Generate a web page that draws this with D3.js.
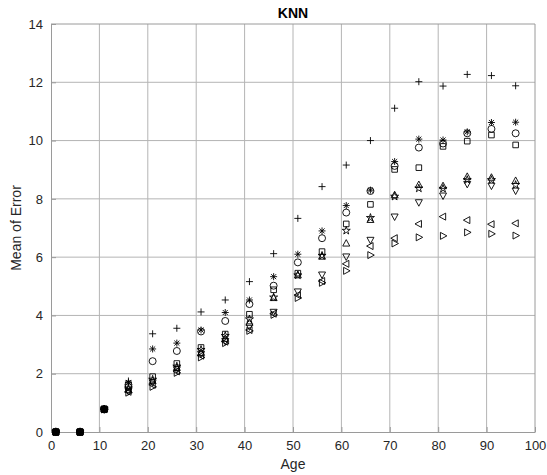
<!DOCTYPE html>
<html>
<head>
<meta charset="utf-8">
<script src="https://cdn.jsdelivr.net/npm/d3@7"></script>
<style>
  html, body { margin: 0; padding: 0; background: #fff; }
  svg { display: block; font-family: "Liberation Sans", Arial, Helvetica, sans-serif; }
</style>
</head>
<body>
<svg id="chart" width="547" height="475"></svg>
<script>
// Age groups (x) and the mean error of each KNN variant
const ages = [1, 6, 11, 16, 21, 26, 31, 36, 41, 46, 51, 56, 61, 66, 71, 76, 81, 86, 91, 96];

const plusSeries     = [0, 0, 0.78, 1.75, 3.37, 3.56, 4.12, 4.53, 5.16, 6.12, 7.33, 8.42, 9.16, 10.0, 11.11, 12.02, 11.87, 12.27, 12.23, 11.88];
const asteriskSeries = [0, 0, 0.78, 1.70, 2.85, 3.05, 3.50, 4.10, 4.53, 5.33, 6.10, 6.90, 7.77, 8.30, 9.28, 10.05, 10.02, 10.30, 10.62, 10.63];
const circleSeries   = [0, 0, 0.78, 1.62, 2.43, 2.78, 3.45, 3.81, 4.39, 5.02, 5.82, 6.65, 7.53, 8.27, 9.13, 9.76, 9.90, 10.25, 10.40, 10.25];
const squareSeries   = [0, 0, 0.78, 1.55, 1.90, 2.35, 2.90, 3.36, 4.04, 4.88, 5.45, 6.19, 7.14, 7.81, 9.01, 9.07, 9.80, 9.98, 10.19, 9.85];
const starSeries     = [0, 0, 0.78, 1.50, 1.80, 2.25, 2.82, 3.30, 3.87, 4.62, 5.38, 6.05, 6.91, 7.35, 8.08, 8.36, 8.35, 8.65, 8.65, 8.48];
const upSeries       = [0, 0, 0.78, 1.45, 1.75, 2.20, 2.72, 3.20, 3.75, 4.60, 5.38, 6.02, 6.47, 7.28, 8.13, 8.48, 8.44, 8.76, 8.73, 8.62];
const downSeries     = [0, 0, 0.78, 1.40, 1.70, 2.15, 2.68, 3.12, 3.62, 4.12, 4.82, 5.40, 6.02, 6.59, 7.39, 7.88, 8.11, 8.51, 8.45, 8.28];
const leftSeries     = [0, 0, 0.78, 1.38, 1.62, 2.08, 2.62, 3.10, 3.50, 4.06, 4.70, 5.18, 5.77, 6.38, 6.65, 7.14, 7.39, 7.27, 7.13, 7.16];
const rightSeries    = [0, 0, 0.78, 1.35, 1.55, 2.03, 2.56, 3.05, 3.47, 4.02, 4.60, 5.12, 5.53, 6.07, 6.47, 6.68, 6.73, 6.85, 6.80, 6.74];

const xTicks = [0, 10, 20, 30, 40, 50, 60, 70, 80, 90, 100];
const yTicks = [0, 2, 4, 6, 8, 10, 12, 14];

const series = [
  { marker: "plus",     values: plusSeries },
  { marker: "asterisk", values: asteriskSeries },
  { marker: "circle",   values: circleSeries },
  { marker: "square",   values: squareSeries },
  { marker: "star",     values: starSeries },
  { marker: "up",       values: upSeries },
  { marker: "down",     values: downSeries },
  { marker: "left",     values: leftSeries },
  { marker: "right",    values: rightSeries }
];

const svg = d3.select("#chart");
const margin = { left: 51, right: 12, top: 24, bottom: 43 };
const W = 547, H = 475;
const x = d3.scaleLinear().domain([0, 100]).range([margin.left, W - margin.right]);
const y = d3.scaleLinear().domain([0, 14]).range([H - margin.bottom, margin.top]);

const gridColor = "#b4b4b4";
const axisColor = "#9a9a9a";
const textColor = "#262626";

// Grid
svg.append("g").selectAll("line.vx").data(xTicks.slice(1, -1)).join("line")
  .attr("x1", d => x(d)).attr("x2", d => x(d))
  .attr("y1", y(0)).attr("y2", y(14))
  .attr("stroke", gridColor).attr("stroke-width", 1);
svg.append("g").selectAll("line.hy").data(yTicks.slice(1, -1)).join("line")
  .attr("x1", x(0)).attr("x2", x(100))
  .attr("y1", d => y(d)).attr("y2", d => y(d))
  .attr("stroke", gridColor).attr("stroke-width", 1);

// Axes (ticks point inward)
const xAxis = svg.append("g").attr("transform", `translate(0,${y(0)})`)
  .call(d3.axisBottom(x).tickValues(xTicks).tickSizeInner(-5).tickSizeOuter(0).tickPadding(9));
const yAxis = svg.append("g").attr("transform", `translate(${x(0)},0)`)
  .call(d3.axisLeft(y).tickValues(yTicks).tickSizeInner(-5).tickSizeOuter(0).tickPadding(8));
[xAxis, yAxis].forEach(a => {
  a.select(".domain").attr("stroke", axisColor);
  a.selectAll(".tick line").attr("stroke", axisColor);
  a.selectAll(".tick text").attr("fill", textColor).attr("font-size", 13)
    .attr("font-family", "'Liberation Sans', Arial, sans-serif");
});

// Box top and right
svg.append("line").attr("x1", x(0)).attr("x2", x(100)).attr("y1", y(14)).attr("y2", y(14)).attr("stroke", axisColor);
svg.append("line").attr("x1", x(100)).attr("x2", x(100)).attr("y1", y(14)).attr("y2", y(0)).attr("stroke", axisColor);

// Marker shapes
const r = 3.5;
function markerPath(m) {
  switch (m) {
    case "plus": return `M${-r},0H${r}M0,${-r}V${r}`;
    case "asterisk": {
      const d = r * 0.72;
      return `M${-r},0H${r}M0,${-r}V${r}M${-d},${-d}L${d},${d}M${-d},${d}L${d},${-d}`;
    }
    case "circle": return d3.symbol(d3.symbolCircle, Math.PI * r * r)();
    case "square": { const s = r * 0.8; return `M${-s},${-s}H${s}V${s}H${-s}Z`; }
    case "star": return d3.symbol(d3.symbolStar, 20)();
    case "up":    return `M0,${-r * 1.1}L${r},${r * 0.75}L${-r},${r * 0.75}Z`;
    case "down":  return `M0,${r * 1.1}L${r},${-r * 0.75}L${-r},${-r * 0.75}Z`;
    case "left":  return `M${-r * 1.1},0L${r * 0.75},${-r}L${r * 0.75},${r}Z`;
    case "right": return `M${r * 1.1},0L${-r * 0.75},${-r}L${-r * 0.75},${r}Z`;
  }
}

series.forEach(s => {
  svg.append("g").selectAll("path").data(s.values).join("path")
    .attr("d", markerPath(s.marker))
    .attr("transform", (v, i) => `translate(${x(ages[i])},${y(v)})`)
    .attr("fill", "none").attr("stroke", "#000").attr("stroke-width", 0.9);
});

// Filled dots where every variant overlaps at zero / near-zero error
svg.append("g").selectAll("circle").data(ages.slice(0, 3)).join("circle")
  .attr("cx", d => x(d)).attr("cy", (d, i) => y(circleSeries[i]))
  .attr("r", 4).attr("fill", "#000");

// Labels
svg.append("text").attr("x", (x(0) + x(100)) / 2).attr("y", 18)
  .attr("text-anchor", "middle").attr("font-weight", "bold").attr("font-size", 14)
  .attr("fill", "#000").text("KNN");
svg.append("text").attr("x", (x(0) + x(100)) / 2).attr("y", 469)
  .attr("text-anchor", "middle").attr("font-size", 14).attr("fill", textColor).text("Age");
svg.append("text").attr("transform", `translate(21,${(y(0) + y(14)) / 2}) rotate(-90)`)
  .attr("text-anchor", "middle").attr("font-size", 14).attr("fill", textColor).text("Mean of Error");
</script>
</body>
</html>
